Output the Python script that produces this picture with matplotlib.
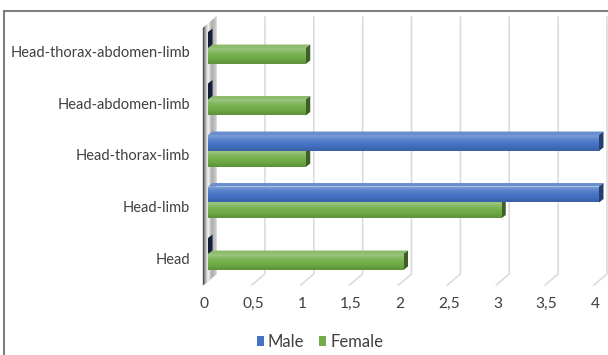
import numpy as np
import matplotlib
matplotlib.use("Agg")
import matplotlib.pyplot as plt
from matplotlib.patches import Polygon, Rectangle
from matplotlib.transforms import ScaledTranslation, IdentityTransform, blended_transform_factory
from matplotlib.lines import Line2D
from matplotlib.colors import to_rgb

categories = ["Head", "Head-limb", "Head-thorax-limb", "Head-abdomen-limb",
              "Head-thorax-abdomen-limb"]
male = [0, 4, 4, 0, 0]
female = [2, 3, 1, 1, 1]
xticks = [0, 0.5, 1, 1.5, 2, 2.5, 3, 3.5, 4]
xtick_labels = ["0", "0,5", "1", "1,5", "2", "2,5", "3", "3,5", "4"]
series_names = ["Male", "Female"]

plt.rcParams["font.family"] = ["Lato", "DejaVu Sans"]
TEXT = "#404040"

W, H, DPI = 608, 355, 100
fig = plt.figure(figsize=(W / DPI, H / DPI), dpi=DPI)
fig.patch.set_facecolor("white")
ax = fig.add_axes([208 / W, 1 - 279.75 / H, 391 / W, 257.5 / H])
ax.set_xlim(0, 4)
ax.set_ylim(-0.5, len(categories) - 0.5)
ax.set_autoscale_on(False)
ax.axis("off")

PIX = IdentityTransform()


def to_px(x, y):
    return ax.transData.transform((x, y))


def shade(c, f):
    c = np.array(to_rgb(c))
    if f >= 0:
        return tuple(c + (1 - c) * f)
    return tuple(c * (1 + f))


# 3D geometry in pixels (x right, y up)
FLOOR_FRONT, FLOOR_BACK = -5.0, 8.0          # x offsets of floor edges
FLOOR_Y_FRONT, FLOOR_Y_BACK = H - 285, H - 274
WALL_TOP_BACK, WALL_TOP_FRONT = H - 17, H - 28
BAR_DX, BAR_DY = 4.5, 3.5                    # bar depth

# back-wall gridlines running onto the floor
for v in xticks:
    xf = to_px(v, 0)[0]
    ax.add_line(Line2D([xf + FLOOR_BACK, xf + FLOOR_BACK, xf + FLOOR_FRONT],
                       [WALL_TOP_BACK, FLOOR_Y_BACK, FLOOR_Y_FRONT],
                       transform=PIX, color="#d9d9d9", lw=1.1,
                       clip_on=False, zorder=1))

# side wall with a grey gradient across its depth
x0 = to_px(0, 0)[0]
wall_cols = ["#555555", "#7d7d7d", "#b5b5b5", "#e4e4e4", "#eeeeee", "#d0d0d0",
             "#b9b9b9", "#aaaaaa", "#b4b4b4", "#c6c6c6"]
n = len(wall_cols)
for k, col in enumerate(wall_cols):
    t0, t1 = k / n, (k + 1) / n
    xa = x0 + FLOOR_FRONT + (FLOOR_BACK - FLOOR_FRONT) * t0
    xb = x0 + FLOOR_FRONT + (FLOOR_BACK - FLOOR_FRONT) * t1
    ya0 = FLOOR_Y_FRONT + (FLOOR_Y_BACK - FLOOR_Y_FRONT) * t0
    yb0 = FLOOR_Y_FRONT + (FLOOR_Y_BACK - FLOOR_Y_FRONT) * t1
    ya1 = WALL_TOP_FRONT + (WALL_TOP_BACK - WALL_TOP_FRONT) * t0
    yb1 = WALL_TOP_FRONT + (WALL_TOP_BACK - WALL_TOP_FRONT) * t1
    ax.add_patch(Polygon([[xa, ya0], [xb, yb0], [xb, yb1], [xa, ya1]],
                         closed=True, transform=PIX, facecolor=col,
                         edgecolor=col, lw=0.3, clip_on=False, zorder=2))

BLUE, GREEN = "#4472c4", "#70ad47"
bar_h = 0.31
y = np.arange(len(categories))


def draw_bars(values, ypos, color, z):
    bars = ax.barh(ypos, values, height=bar_h, color=color, lw=0, zorder=z)
    grad = np.array([shade(color, -0.14), shade(color, -0.05), shade(color, 0.0),
                     shade(color, 0.06), shade(color, 0.14), shade(color, 0.28)])
    for rect, v, yc in zip(bars, values, ypos):
        y0, y1 = yc - bar_h / 2, yc + bar_h / 2
        if v > 0:
            im = ax.imshow(grad[:, None, :], extent=(0, v, y0, y1), origin="lower",
                           aspect="auto", interpolation="bilinear", zorder=z + 0.1)
            im.set_clip_path(rect)
        (xa, ya0), (xb, yb1) = to_px(0, y0), to_px(v, y1)
        yb0 = to_px(v, y0)[1]
        # top face
        if v > 0:
            ax.add_patch(Polygon([[xa, yb1], [xb, yb1], [xb + BAR_DX, yb1 + BAR_DY],
                                  [xa + BAR_DX, yb1 + BAR_DY]], transform=PIX,
                                 facecolor=shade(color, 0.2), edgecolor="none",
                                 clip_on=False, zorder=z - 0.2))
        # end cap
        cap = shade(color, -0.45) if v > 0 else shade(color, -0.72)
        ax.add_patch(Polygon([[xb, yb0], [xb, yb1], [xb + BAR_DX, yb1 + BAR_DY],
                              [xb + BAR_DX, yb0 + BAR_DY]], transform=PIX,
                             facecolor=cap, edgecolor="none",
                             clip_on=False, zorder=z - 0.1))


draw_bars(female, y - bar_h / 2, GREEN, 4)
draw_bars(male, y + bar_h / 2, BLUE, 6)
ax.set_xlim(0, 4)
ax.set_ylim(-0.5, len(categories) - 0.5)

# category labels
lab_tr = ax.transData + ScaledTranslation(-18 / DPI, -5.5 / DPI, fig.dpi_scale_trans)
for yi, name in zip(y, categories):
    ax.text(0, yi, name, transform=lab_tr, ha="right", va="center",
            fontsize=10.5, color=TEXT, clip_on=False)

# value axis labels
tick_tr = blended_transform_factory(ax.transData, fig.transFigure) + \
    ScaledTranslation(-3.5 / DPI, 0, fig.dpi_scale_trans)
for v, s in zip(xticks, xtick_labels):
    ax.text(v, 1 - 304 / H, s, transform=tick_tr, ha="center", va="center",
            fontsize=11.2, color=TEXT, clip_on=False)

handles = [Rectangle((0, 0), 1, 1, facecolor=BLUE), Rectangle((0, 0), 1, 1, facecolor=GREEN)]
fig.legend(handles, series_names, loc="center", bbox_to_anchor=(320 / W, 1 - 342 / H),
           ncol=2, frameon=False, fontsize=12, handlelength=0.42, handleheight=0.55,
           handletextpad=0.25, columnspacing=0.9, labelcolor=TEXT)

# outer frame
fig.add_artist(Line2D([4 / W, 1], [1 - 10.5 / H, 1 - 10.5 / H], transform=fig.transFigure,
                      color="#7f7f7f", lw=1.5))
fig.add_artist(Line2D([4 / W, 4 / W], [0, 1 - 10.5 / H], transform=fig.transFigure,
                      color="#7f7f7f", lw=1.5))

fig.savefig("out.png", dpi=DPI)
